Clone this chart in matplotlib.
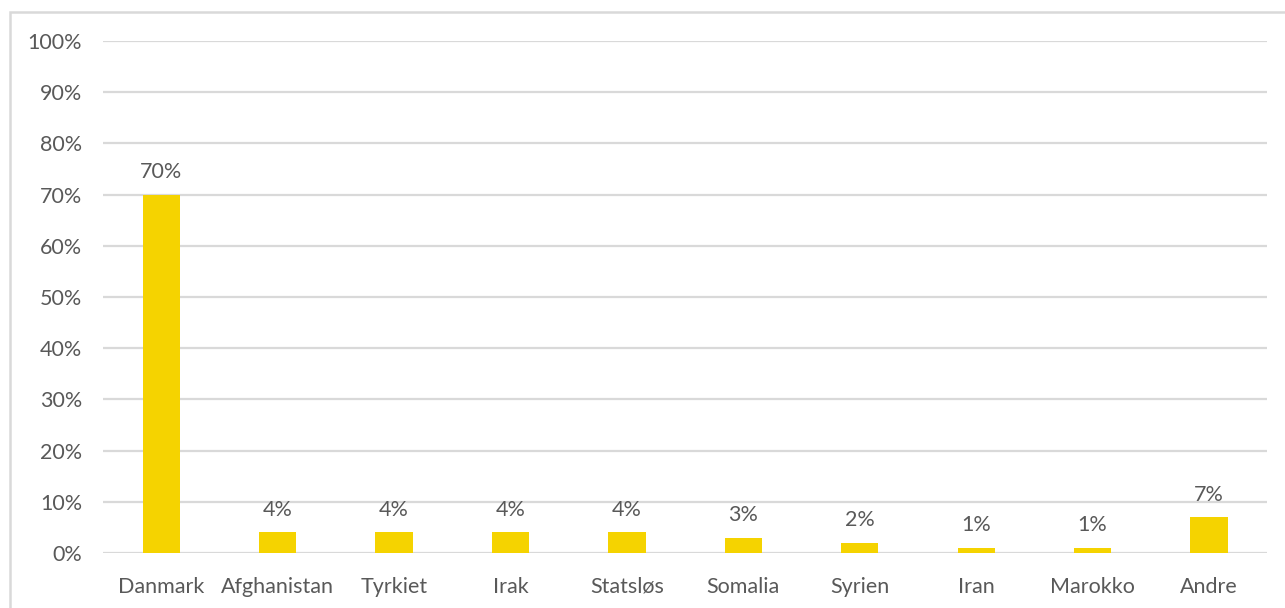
import matplotlib.pyplot as plt
from matplotlib.patches import Rectangle
from matplotlib.ticker import PercentFormatter

countries = ["Danmark", "Afghanistan", "Tyrkiet", "Irak", "Statsløs",
             "Somalia", "Syrien", "Iran", "Marokko", "Andre"]
shares = [70, 4, 4, 4, 4, 3, 2, 1, 1, 7]

barColor = "#F5D300"
gridColor = "#D9D9D9"
textColor = "#595959"

plt.rcParams['font.family'] = ['Lato', 'DejaVu Sans']

fig = plt.figure(figsize=(12.85, 6.08), dpi=100)
ax = fig.add_axes([0.0802, 0.0905, 0.906, 0.842])

x = range(len(countries))
ax.bar(x, shares, width=0.32, color=barColor, zorder=3)

for i, v in zip(x, shares):
    ax.annotate(f"{v}%", (i, v), xytext=(0, 9), textcoords="offset points",
                ha="center", va="bottom", fontsize=15.5, color=textColor)

ax.set_xlim(-0.5, len(countries) - 0.5)
ax.set_ylim(0, 100)
ax.set_yticks(range(0, 101, 10))
ax.yaxis.set_major_formatter(PercentFormatter(decimals=0))
ax.set_xticks(list(x))
ax.set_xticklabels(countries)
ax.tick_params(length=0, labelsize=15.5, labelcolor=textColor)
ax.tick_params(axis='y', pad=15)
ax.tick_params(axis='x', pad=17)

ax.grid(axis='y', color=gridColor, linewidth=1.6, zorder=0)
for s in ax.spines.values():
    s.set_visible(False)

# outer chart frame
fig.patches.append(Rectangle((10 / 1285, -0.1), 1.2, 1 - 12 / 608 + 0.1,
                             transform=fig.transFigure, fill=False,
                             edgecolor=gridColor, linewidth=1.8))

fig.savefig("out.png", dpi=100)
